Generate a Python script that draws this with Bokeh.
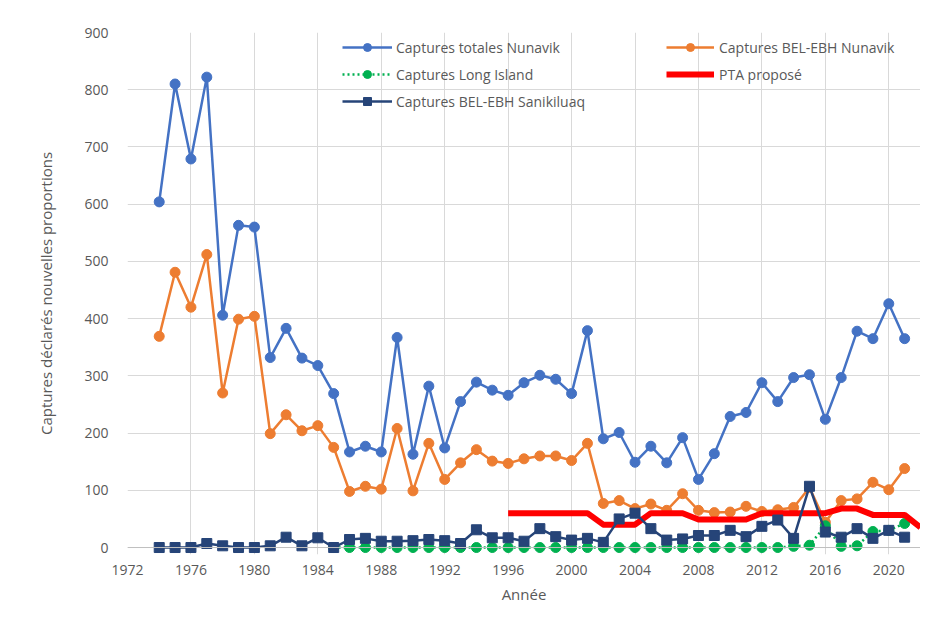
from bokeh.plotting import figure
from bokeh.models import Range1d, Legend, LegendItem, FixedTicker, Span
from bokeh.embed import file_html
from bokeh.resources import INLINE

# ---- data ----
years_main = list(range(1974, 2022))
totales_nunavik = [604, 810, 679, 822, 406, 563, 560, 332, 383, 331, 318, 269,
                   167, 177, 167, 367, 163, 282, 174, 255, 289, 275, 266, 288,
                   301, 294, 269, 379, 190, 201, 149, 177, 148, 192, 119, 164,
                   229, 236, 288, 255, 297, 302, 224, 297, 378, 365, 426, 365]
bel_ebh_nunavik = [369, 481, 420, 512, 270, 399, 404, 199, 232, 204, 213, 175,
                   98, 107, 102, 208, 99, 182, 119, 148, 171, 151, 147, 155,
                   160, 160, 152, 182, 77, 82, 68, 76, 65, 94, 65, 61,
                   62, 72, 63, 66, 70, 105, 44, 82, 85, 114, 101, 138]
bel_ebh_sanikiluaq = [0, 0, 0, 7, 3, 0, 0, 3, 18, 3, 17, 0,
                      14, 16, 11, 11, 12, 14, 12, 7, 31, 17, 17, 11,
                      33, 19, 13, 16, 9, 50, 60, 33, 13, 15, 21, 21,
                      30, 19, 37, 48, 16, 107, 27, 18, 33, 16, 30, 18]
years_long_island = list(range(1985, 2022))
long_island = [0] * 29 + [2, 4, 38, 2, 3, 28, 30, 42]
years_pta = list(range(1996, 2023))
pta_propose = [60, 60, 60, 60, 60, 60, 40, 40, 40, 60, 60, 60, 49, 49, 49, 49,
               60, 60, 60, 60, 60, 68, 68, 57, 57, 57, 35]

x_ticks = list(range(1972, 2021, 4))
y_ticks = list(range(0, 901, 100))

BLUE = "#4472C4"
ORANGE = "#ED7D31"
GREEN = "#00B050"
RED = "#FF0000"
NAVY = "#264478"
TXT = "#595959"
GRID = "#D9D9D9"
FONT = "Open Sans"

p = figure(width=920, height=606, output_backend="svg", toolbar_location=None,
           x_range=Range1d(1972, 2022), y_range=Range1d(-12.2, 900),
           min_border_left=127, min_border_right=0, min_border_top=32,
           min_border_bottom=52)
p.outline_line_color = None
p.background_fill_color = "white"
p.border_fill_color = "white"

# axes
p.xaxis.ticker = FixedTicker(ticks=x_ticks)
p.yaxis.ticker = FixedTicker(ticks=y_ticks)
for ax in (p.xaxis[0], p.yaxis[0]):
    ax.axis_line_color = None
    ax.major_tick_line_color = None
    ax.minor_tick_line_color = None
    ax.major_label_text_font = FONT
    ax.major_label_text_font_size = "14px"
    ax.major_label_text_color = TXT
    ax.axis_label_text_font = FONT
    ax.axis_label_text_font_size = "15px"
    ax.axis_label_text_font_style = "normal"
    ax.axis_label_text_color = TXT
p.xaxis.major_label_standoff = 4
p.yaxis.major_label_standoff = 13
p.xaxis.axis_label = "Année"
p.yaxis.axis_label = "Captures déclarés nouvelles proportions"
p.xaxis.axis_label_standoff = 6
p.yaxis.axis_label_standoff = 25

p.xgrid.ticker = FixedTicker(ticks=x_ticks)
p.ygrid.ticker = FixedTicker(ticks=y_ticks)
p.xgrid.grid_line_color = GRID
p.ygrid.grid_line_color = GRID
p.xgrid.grid_line_width = 1
p.ygrid.grid_line_width = 1

p.add_layout(Span(location=0, dimension="width", line_color="#BFBFBF", line_width=1))

# series
l1 = p.line(years_main, totales_nunavik, line_color=BLUE, line_width=2.5)
s1 = p.scatter(years_main, totales_nunavik, marker="circle", size=10,
               fill_color=BLUE, line_color=BLUE)
l2 = p.line(years_main, bel_ebh_nunavik, line_color=ORANGE, line_width=2.5)
s2 = p.scatter(years_main, bel_ebh_nunavik, marker="circle", size=10,
               fill_color=ORANGE, line_color=ORANGE)
l3 = p.line(years_long_island, long_island, line_color=GREEN, line_width=2.5,
            line_dash="2 3")
s3 = p.scatter(years_long_island, long_island, marker="circle", size=10,
               fill_color=GREEN, line_color=GREEN)
l4 = p.line(years_pta, pta_propose, line_color=RED, line_width=6,
            line_join="round")
l5 = p.line(years_main, bel_ebh_sanikiluaq, line_color=NAVY, line_width=2.5)
s5 = p.scatter(years_main, bel_ebh_sanikiluaq, marker="square", size=10,
               fill_color=NAVY, line_color=NAVY)


def make_legend(items, loc, gw, standoff):
    lg = Legend(items=items, location=loc, orientation="vertical",
                padding=0, margin=0, spacing=7,
                glyph_width=gw, glyph_height=20, label_height=20,
                label_standoff=standoff,
                label_text_font=FONT, label_text_font_size="14px",
                label_text_color=TXT,
                border_line_color=None, background_fill_alpha=0)
    return lg


leg1 = make_legend([
    LegendItem(label="Captures totales Nunavik", renderers=[l1, s1]),
    LegendItem(label="Captures Long Island", renderers=[l3, s3]),
    LegendItem(label="Captures BEL-EBH Sanikiluaq", renderers=[l5, s5]),
], (215, 443), 50, 4)
leg2 = make_legend([
    LegendItem(label="Captures BEL-EBH Nunavik", renderers=[l2, s2]),
    LegendItem(label="PTA proposé", renderers=[l4]),
], (539, 470), 48, 5)
p.add_layout(leg1)
p.add_layout(leg2)

open("out.html", "w").write(file_html(p, INLINE))
